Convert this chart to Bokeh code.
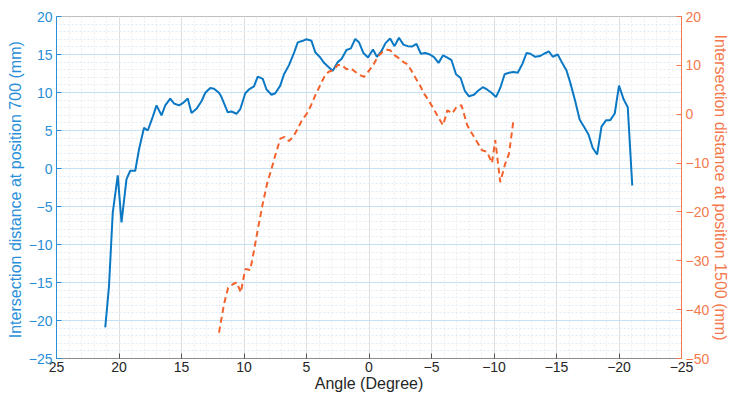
from bokeh.plotting import figure
from bokeh.models import Range1d, LinearAxis, FixedTicker
from bokeh.embed import file_html
from bokeh.resources import INLINE

# Blue series: position 700 (left axis)
angle_700 = [21.1, 20.8, 20.5, 20.1, 19.8, 19.4, 19.1, 18.7, 18.4, 18.0, 17.7, 17.3, 17.0, 16.6,
             16.3, 15.9, 15.6, 15.2, 14.9, 14.5, 14.2, 13.8, 13.4, 13.1, 12.7, 12.4, 12.0, 11.8,
             11.3, 11.0, 10.6, 10.3, 9.9, 9.6, 9.2, 8.9, 8.5, 8.2, 7.8, 7.5, 7.1, 6.8, 6.4, 6.0,
             5.7, 5.3, 5.0, 4.6, 4.3, 3.9, 3.6, 3.2, 2.9, 2.5, 2.2, 1.8, 1.45, 1.1, 0.8, 0.45,
             0.08, -0.32, -0.63, -0.98, -1.32, -1.69, -2.04, -2.4, -2.75, -3.1, -3.44, -3.8,
             -4.15, -4.5, -4.87, -5.2, -5.56, -5.93, -6.27, -6.6, -6.96, -7.33, -7.67, -8.0,
             -8.4, -8.7, -9.1, -9.44, -9.8, -10.16, -10.5, -10.85, -11.2, -11.56, -11.9, -12.28,
             -12.6, -12.9, -13.3, -13.7, -14.0, -14.4, -14.7, -15.1, -15.45, -15.8, -16.1,
             -16.5, -16.85, -17.2, -17.56, -17.9, -18.25, -18.6, -18.97, -19.3, -19.66, -20.0,
             -20.37, -20.7, -21.06]
dist_700 = [-20.9, -15.5, -5.8, -0.9, -7.1, -1.4, -0.3, -0.3, 2.5, 5.35, 5.0, 6.8, 8.3, 7.0,
            8.3, 9.2, 8.55, 8.3, 8.6, 9.2, 7.3, 7.85, 8.85, 9.96, 10.6, 10.5, 9.96, 9.4,
            7.4, 7.5, 7.2, 7.8, 9.9, 10.4, 10.8, 12.1, 11.8, 10.4, 9.7, 9.9, 10.9, 12.4, 13.6, 15.2,
            16.6, 16.8, 17.0, 16.8, 15.3, 14.6, 13.9, 13.3, 12.85, 14.0, 14.4, 15.6, 15.8, 17.05, 16.6, 15.2,
            14.6, 15.65, 14.7, 15.4, 16.5, 17.1, 16.1, 17.2, 16.3, 16.1, 16.05, 16.4,
            15.1, 15.2, 15.0, 14.65, 13.9, 14.9, 14.6, 14.25, 12.4, 11.9, 10.2, 9.5,
            9.7, 10.2, 10.7, 10.4, 9.96, 9.4, 10.6, 12.4, 12.6, 12.7, 12.6, 13.8,
            15.2, 15.1, 14.7, 14.8, 15.1, 15.4, 14.7, 15.0, 13.9, 12.9, 11.3,
            8.86, 6.45, 5.5, 4.47, 2.7, 1.84, 5.5, 6.36, 6.36, 7.24, 10.9,
            9.1, 8.07, -2.24]

# Orange series: position 1500 (right axis)
angle_1500 = [12.0, 11.6, 11.27, 10.9, 10.58, 10.26, 9.9, 9.5, 9.2, 8.86, 8.5, 8.15, 7.8, 7.46,
              7.09, 6.75, 6.4, 6.03, 5.7, 5.34, 4.97, 4.63, 4.29, 3.9, 3.57, 3.23, 2.86, 2.5,
              2.17, 1.8, 1.45, 1.1, 0.74, 0.4, 0.06, -0.32, -0.71, -1.1, -1.45, -1.69, -2.04,
              -2.44, -2.8, -3.1, -3.44, -3.75, -4.1, -4.4, -4.75, -5.08, -5.6, -5.93, -6.27,
              -6.67, -7.0, -7.4, -7.86, -8.25, -8.65, -9.05, -9.44, -9.84, -10.1, -10.5,
              -10.9, -11.2, -11.56]
dist_1500 = [-44.7, -38.9, -35.5, -34.8, -34.4, -36.5, -31.7, -31.9, -27.9, -23.1, -18.3, -14.2,
             -11.2, -8.1, -5.0, -4.65, -5.5, -4.5, -2.95, -1.1, 0.13, 1.85, 3.9, 5.95, 7.67, 8.7,
             9.0, 10.06, 10.06, 9.2, 9.4, 8.7, 8.0, 7.67, 8.7, 10.0, 11.8, 12.8, 13.2, 13.1, 12.1,
             11.4, 10.6, 10.2, 8.7, 7.3, 5.8, 4.25, 2.9, 1.5, -0.9, -2.26, 0.82,
             0.14, 1.5, 1.85, -2.26, -4.0, -5.7, -7.4, -7.7, -10.0, -5.3, -13.9,
             -10.1, -8.1, -1.2]

x_ticks = [25, 20, 15, 10, 5, 0, -5, -10, -15, -20, -25]
left_ticks = [20, 15, 10, 5, 0, -5, -10, -15, -20, -25]
right_ticks = [20, 10, 0, -10, -20, -30, -40, -50]

BLUE = "#0b78c4"
BLUE_TXT = "#2a8fd8"
ORANGE = "#f4622c"
ORANGE_TXT = "#f47a4e"
FONT = "Liberation Sans"

p = figure(width=732, height=401, output_backend="svg", toolbar_location=None,
           x_range=Range1d(25, -25), y_range=Range1d(-25, 20),
           min_border_left=56, min_border_right=47, min_border_top=16, min_border_bottom=43)
p.extra_y_ranges = {"right": Range1d(-50, 20)}
p.outline_line_color = "#bfbfbf"
p.background_fill_color = "white"

# grids
p.xgrid.ticker = FixedTicker(ticks=x_ticks, minor_ticks=[v for v in range(-25, 26)])
p.xgrid.grid_line_color = "#dedede"
p.xgrid.minor_grid_line_color = "#ececec"
p.xgrid.minor_grid_line_dash = "2 2"
p.ygrid.ticker = FixedTicker(ticks=left_ticks, minor_ticks=[v for v in range(-25, 21)])
p.ygrid.grid_line_color = "#c5e2f4"
p.ygrid.minor_grid_line_color = "#dcedf8"
p.ygrid.minor_grid_line_dash = "2 2"

# bottom axis
xa = p.xaxis[0]
xa.ticker = FixedTicker(ticks=x_ticks)
xa.axis_label = "Angle (Degree)"
xa.axis_line_color = "#8c8c8c"
xa.major_tick_line_color = "#555555"
xa.major_tick_in = 5
xa.major_tick_out = 0
xa.minor_tick_line_color = None
xa.major_label_text_font = FONT
xa.major_label_text_font_size = "14px"
xa.major_label_text_color = "#262626"
xa.major_label_standoff = 3
xa.axis_label_text_font = FONT
xa.axis_label_text_font_size = "16px"
xa.axis_label_text_font_style = "normal"
xa.axis_label_text_color = "#262626"
xa.axis_label_standoff = 0

# left axis
ya = p.yaxis[0]
ya.ticker = FixedTicker(ticks=left_ticks)
ya.axis_label = "Intersection distance at position  700 (mm)"
ya.axis_line_color = BLUE_TXT
ya.major_tick_line_color = BLUE_TXT
ya.major_tick_in = 5
ya.major_tick_out = 0
ya.minor_tick_line_color = None
ya.major_label_text_font = FONT
ya.major_label_text_font_size = "14px"
ya.major_label_text_color = BLUE_TXT
ya.major_label_standoff = 4
ya.axis_label_text_font = FONT
ya.axis_label_text_font_size = "16px"
ya.axis_label_text_font_style = "normal"
ya.axis_label_text_color = BLUE_TXT
ya.axis_label_standoff = 2

# right axis
ra = LinearAxis(y_range_name="right", ticker=FixedTicker(ticks=right_ticks),
                axis_label="Intersection distance at position 1500 (mm)")
ra.axis_line_color = ORANGE_TXT
ra.major_tick_line_color = ORANGE_TXT
ra.major_tick_in = 5
ra.major_tick_out = 0
ra.minor_tick_line_color = None
ra.major_label_text_font = FONT
ra.major_label_text_font_size = "14px"
ra.major_label_text_color = ORANGE_TXT
ra.major_label_standoff = 4
ra.axis_label_text_font = FONT
ra.axis_label_text_font_size = "16px"
ra.axis_label_text_font_style = "normal"
ra.axis_label_text_color = ORANGE_TXT
ra.axis_label_standoff = 0
p.add_layout(ra, "right")

# series
p.line(angle_700, dist_700, line_color=BLUE, line_width=2)
p.line(angle_1500, dist_1500, line_color=ORANGE, line_width=2, line_dash="6 4",
       y_range_name="right")

open("out.html", "w").write(file_html(p, INLINE))
